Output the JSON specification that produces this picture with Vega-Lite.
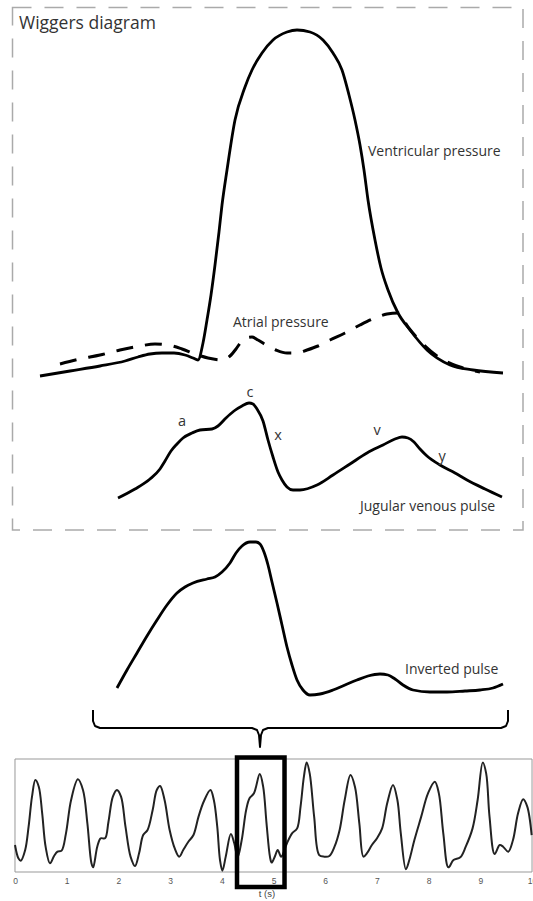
{
  "$schema": "https://vega.github.io/schema/vega-lite/v6.json",
  "width": 533,
  "height": 901,
  "padding": 0,
  "autosize": {"type": "none"},
  "background": "white",
  "config": {"view": {"stroke": null}, "text": {"font": "Open Sans"}},
  "datasets": {
    "curves": [
      {"s":"V","x":40,"y":376},{"s":"V","x":70,"y":371},{"s":"V","x":100,"y":366},{"s":"V","x":125,"y":361},{"s":"V","x":138,"y":357},{"s":"V","x":150,"y":354},{"s":"V","x":162,"y":353},{"s":"V","x":174,"y":353},{"s":"V","x":185,"y":355},{"s":"V","x":193,"y":358},{"s":"V","x":198,"y":360},{"s":"V","x":203,"y":343},{"s":"V","x":207,"y":320},{"s":"V","x":211,"y":295},{"s":"V","x":215,"y":265},{"s":"V","x":219,"y":232},{"s":"V","x":222,"y":205},{"s":"V","x":227,"y":170},{"s":"V","x":235,"y":120},{"s":"V","x":245,"y":87},{"s":"V","x":252,"y":70},{"s":"V","x":262,"y":53},{"s":"V","x":273,"y":40},{"s":"V","x":287,"y":32},{"s":"V","x":297,"y":30},{"s":"V","x":310,"y":32},{"s":"V","x":323,"y":40},{"s":"V","x":333,"y":53},{"s":"V","x":342,"y":70},{"s":"V","x":349,"y":95},{"s":"V","x":355,"y":120},{"s":"V","x":360,"y":145},{"s":"V","x":364,"y":170},{"s":"V","x":368,"y":200},{"s":"V","x":375,"y":240},{"s":"V","x":381,"y":268},{"s":"V","x":388,"y":290},{"s":"V","x":398,"y":313},{"s":"V","x":410,"y":330},{"s":"V","x":427,"y":350},{"s":"V","x":450,"y":365},{"s":"V","x":473,"y":370},{"s":"V","x":503,"y":373},
      {"s":"J","x":118,"y":498},{"s":"J","x":135,"y":489},{"s":"J","x":150,"y":479},{"s":"J","x":160,"y":469},{"s":"J","x":165,"y":461},{"s":"J","x":171,"y":451},{"s":"J","x":177,"y":444},{"s":"J","x":183,"y":438},{"s":"J","x":192,"y":433},{"s":"J","x":200,"y":430},{"s":"J","x":212,"y":429},{"s":"J","x":218,"y":426},{"s":"J","x":226,"y":418},{"s":"J","x":234,"y":411},{"s":"J","x":242,"y":406},{"s":"J","x":249,"y":403},{"s":"J","x":253,"y":404},{"s":"J","x":257,"y":409},{"s":"J","x":263,"y":421},{"s":"J","x":268,"y":440},{"s":"J","x":273,"y":457},{"s":"J","x":278,"y":472},{"s":"J","x":282,"y":480},{"s":"J","x":287,"y":487},{"s":"J","x":293,"y":490},{"s":"J","x":300,"y":490},{"s":"J","x":317,"y":485},{"s":"J","x":333,"y":475},{"s":"J","x":350,"y":464},{"s":"J","x":367,"y":453},{"s":"J","x":383,"y":445},{"s":"J","x":395,"y":439},{"s":"J","x":402,"y":437},{"s":"J","x":408,"y":438},{"s":"J","x":414,"y":442},{"s":"J","x":420,"y":449},{"s":"J","x":427,"y":456},{"s":"J","x":440,"y":465},{"s":"J","x":455,"y":473},{"s":"J","x":467,"y":480},{"s":"J","x":485,"y":489},{"s":"J","x":502,"y":497},
      {"s":"I","x":117,"y":688},{"s":"I","x":127,"y":670},{"s":"I","x":137,"y":653},{"s":"I","x":147,"y":636},{"s":"I","x":157,"y":620},{"s":"I","x":167,"y":605},{"s":"I","x":177,"y":593},{"s":"I","x":185,"y":587},{"s":"I","x":193,"y":583},{"s":"I","x":207,"y":579},{"s":"I","x":215,"y":577},{"s":"I","x":222,"y":572},{"s":"I","x":230,"y":563},{"s":"I","x":236,"y":553},{"s":"I","x":242,"y":546},{"s":"I","x":250,"y":542},{"s":"I","x":256,"y":542},{"s":"I","x":260,"y":544},{"s":"I","x":264,"y":552},{"s":"I","x":268,"y":565},{"s":"I","x":272,"y":582},{"s":"I","x":277,"y":603},{"s":"I","x":282,"y":625},{"s":"I","x":287,"y":647},{"s":"I","x":292,"y":665},{"s":"I","x":297,"y":680},{"s":"I","x":303,"y":690},{"s":"I","x":310,"y":695},{"s":"I","x":320,"y":694},{"s":"I","x":333,"y":690},{"s":"I","x":345,"y":685},{"s":"I","x":357,"y":680},{"s":"I","x":368,"y":676},{"s":"I","x":380,"y":674},{"s":"I","x":388,"y":675},{"s":"I","x":395,"y":679},{"s":"I","x":403,"y":685},{"s":"I","x":413,"y":690},{"s":"I","x":430,"y":692},{"s":"I","x":447,"y":692},{"s":"I","x":465,"y":691},{"s":"I","x":480,"y":690},{"s":"I","x":493,"y":688},{"s":"I","x":503,"y":684}
    ],
    "atrial": [
      {"x":60,"y":364},{"x":80,"y":359},{"x":100,"y":355},{"x":120,"y":350},{"x":140,"y":346},{"x":155,"y":344},{"x":168,"y":345},{"x":182,"y":349},{"x":195,"y":354},{"x":208,"y":358},{"x":222,"y":360},{"x":230,"y":356},{"x":236,"y":349},{"x":241,"y":342},{"x":246,"y":338},{"x":252,"y":337},{"x":258,"y":340},{"x":266,"y":345},{"x":276,"y":350},{"x":287,"y":353},{"x":297,"y":353},{"x":307,"y":350},{"x":318,"y":346},{"x":330,"y":340},{"x":345,"y":333},{"x":360,"y":325},{"x":375,"y":318},{"x":387,"y":314},{"x":398,"y":313},{"x":408,"y":327},{"x":420,"y":341},{"x":440,"y":358},{"x":460,"y":367},{"x":480,"y":372}
    ],
    "brace": [
      {"i":1,"x":93,"y":710},{"i":2,"x":93,"y":721},{"i":3,"x":95,"y":726},{"i":4,"x":100,"y":728},{"i":5,"x":252,"y":728},{"i":6,"x":257,"y":730},{"i":7,"x":259,"y":735},{"i":8,"x":260,"y":747},{"i":9,"x":261,"y":735},{"i":10,"x":263,"y":730},{"i":11,"x":268,"y":728},{"i":12,"x":501,"y":728},{"i":13,"x":506,"y":726},{"i":14,"x":508,"y":721},{"i":15,"x":508,"y":710}
    ],
    "frame": [{"x":12.5,"x2":523,"y":7.5,"y2":530}],
    "labels": [
      {"k":"title","label":"Wiggers diagram","x":19,"y":24},
      {"k":"label","label":"Ventricular pressure","x":368,"y":152},
      {"k":"label","label":"Atrial pressure","x":233,"y":323},
      {"k":"label","label":"Jugular venous pulse","x":360,"y":507},
      {"k":"label","label":"Inverted pulse","x":405,"y":670},
      {"k":"letter","label":"a","x":182,"y":422},
      {"k":"letter","label":"c","x":250,"y":393},
      {"k":"letter","label":"x","x":278,"y":436},
      {"k":"letter","label":"v","x":377,"y":431},
      {"k":"letter","label":"y","x":442,"y":457}
    ],
    "strip": [
      {"t":0,"v":0.239},{"t":0.066,"v":0.121},{"t":0.112,"v":0.1},{"t":0.197,"v":0.195},{"t":0.263,"v":0.401},{"t":0.329,"v":0.667},{"t":0.394,"v":0.814},{"t":0.46,"v":0.755},{"t":0.526,"v":0.519},{"t":0.592,"v":0.224},{"t":0.677,"v":0.077},{"t":0.756,"v":0.142},{"t":0.822,"v":0.18},{"t":0.901,"v":0.189},{"t":0.986,"v":0.342},{"t":1.085,"v":0.637},{"t":1.216,"v":0.82},{"t":1.315,"v":0.726},{"t":1.4,"v":0.431},{"t":1.479,"v":0.077},{"t":1.512,"v":0.041},{"t":1.591,"v":0.224},{"t":1.657,"v":0.298},{"t":1.742,"v":0.298},{"t":1.808,"v":0.445},{"t":1.893,"v":0.667},{"t":1.972,"v":0.726},{"t":2.051,"v":0.667},{"t":2.137,"v":0.401},{"t":2.235,"v":0.136},{"t":2.321,"v":0.053},{"t":2.4,"v":0.165},{"t":2.479,"v":0.327},{"t":2.564,"v":0.372},{"t":2.663,"v":0.549},{"t":2.742,"v":0.726},{"t":2.807,"v":0.761},{"t":2.893,"v":0.637},{"t":2.991,"v":0.372},{"t":3.09,"v":0.209},{"t":3.176,"v":0.136},{"t":3.254,"v":0.195},{"t":3.353,"v":0.268},{"t":3.452,"v":0.327},{"t":3.55,"v":0.49},{"t":3.649,"v":0.622},{"t":3.78,"v":0.726},{"t":3.846,"v":0.637},{"t":3.912,"v":0.401},{"t":3.965,"v":0.106},{"t":4.011,"v":0.012},{"t":4.076,"v":0.136},{"t":4.175,"v":0.336},{"t":4.241,"v":0.254},{"t":4.306,"v":0.13},{"t":4.385,"v":0.283},{"t":4.471,"v":0.549},{"t":4.536,"v":0.652},{"t":4.622,"v":0.696},{"t":4.734,"v":0.867},{"t":4.8,"v":0.755},{"t":4.865,"v":0.431},{"t":4.931,"v":0.136},{"t":4.964,"v":0.083},{"t":5.03,"v":0.142},{"t":5.082,"v":0.195},{"t":5.148,"v":0.136},{"t":5.26,"v":0.254},{"t":5.358,"v":0.342},{"t":5.457,"v":0.386},{"t":5.523,"v":0.578},{"t":5.588,"v":0.844},{"t":5.641,"v":0.968},{"t":5.7,"v":0.873},{"t":5.786,"v":0.49},{"t":5.884,"v":0.15},{"t":5.983,"v":0.136},{"t":6.081,"v":0.142},{"t":6.18,"v":0.224},{"t":6.279,"v":0.372},{"t":6.377,"v":0.637},{"t":6.489,"v":0.858},{"t":6.575,"v":0.755},{"t":6.66,"v":0.431},{"t":6.739,"v":0.136},{"t":6.805,"v":0.165},{"t":6.903,"v":0.239},{"t":7.002,"v":0.298},{"t":7.101,"v":0.386},{"t":7.199,"v":0.608},{"t":7.311,"v":0.77},{"t":7.396,"v":0.637},{"t":7.462,"v":0.342},{"t":7.561,"v":0.024},{"t":7.627,"v":0.106},{"t":7.725,"v":0.283},{"t":7.857,"v":0.49},{"t":7.988,"v":0.696},{"t":8.12,"v":0.799},{"t":8.198,"v":0.696},{"t":8.284,"v":0.342},{"t":8.383,"v":0.041},{"t":8.481,"v":0.106},{"t":8.613,"v":0.13},{"t":8.718,"v":0.224},{"t":8.85,"v":0.386},{"t":8.948,"v":0.637},{"t":9.047,"v":0.968},{"t":9.113,"v":0.873},{"t":9.178,"v":0.49},{"t":9.277,"v":0.159},{"t":9.375,"v":0.239},{"t":9.441,"v":0.224},{"t":9.54,"v":0.18},{"t":9.632,"v":0.283},{"t":9.73,"v":0.519},{"t":9.829,"v":0.643},{"t":9.908,"v":0.578},{"t":9.993,"v":0.327}
    ],
    "stripframe": [{"t":0,"t2":10,"v":0,"v2":1}],
    "box": [{"t":4.294,"t2":5.213,"v":1.013,"v2":-0.133}],
    "ticks": [{"t":0},{"t":1},{"t":2},{"t":3},{"t":4},{"t":5},{"t":6},{"t":7},{"t":8},{"t":9},{"t":10}]
  },
  "layer": [
    {
      "encoding": {
        "x": {"field": "x", "type": "quantitative", "scale": {"domain": [0, 533], "nice": false, "zero": false}, "axis": null},
        "y": {"field": "y", "type": "quantitative", "scale": {"domain": [0, 901], "nice": false, "zero": false, "reverse": true}, "axis": null}
      },
      "layer": [
        {
          "data": {"name": "frame"},
          "mark": {"type": "rect", "fill": null, "stroke": "#aaaaaa", "strokeWidth": 1.5, "strokeDash": [19, 13]},
          "encoding": {"x2": {"field": "x2"}, "y2": {"field": "y2"}}
        },
        {
          "data": {"name": "atrial"},
          "mark": {"type": "line", "interpolate": "monotone", "color": "black", "strokeWidth": 3, "strokeDash": [17, 12]},
          "encoding": {}
        },
        {
          "data": {"name": "curves"},
          "mark": {"type": "line", "interpolate": "monotone", "color": "black", "strokeWidth": 2.8},
          "encoding": {"detail": {"field": "s"}}
        },
        {
          "data": {"name": "brace"},
          "mark": {"type": "line", "interpolate": "linear", "color": "black", "strokeWidth": 2, "strokeJoin": "round"},
          "encoding": {"order": {"field": "i"}}
        },
        {
          "data": {"name": "labels"},
          "transform": [{"filter": "datum.k == 'title'"}],
          "mark": {"type": "text", "align": "left", "baseline": "middle", "fontSize": 17.5, "color": "#333333", "font": "Open Sans"},
          "encoding": {"text": {"field": "label"}}
        },
        {
          "data": {"name": "labels"},
          "transform": [{"filter": "datum.k == 'label'"}],
          "mark": {"type": "text", "align": "left", "baseline": "middle", "fontSize": 14, "color": "#333333", "font": "Open Sans"},
          "encoding": {"text": {"field": "label"}}
        },
        {
          "data": {"name": "labels"},
          "transform": [{"filter": "datum.k == 'letter'"}],
          "mark": {"type": "text", "align": "center", "baseline": "middle", "fontSize": 14.5, "color": "#333333", "font": "Open Sans"},
          "encoding": {"text": {"field": "label"}}
        }
      ]
    },
    {
      "encoding": {
        "x": {"field": "t", "type": "quantitative", "scale": {"domain": [-0.29, 10.019], "nice": false, "zero": false},
              "axis": {"values": [0,1,2,3,4,5,6,7,8,9,10], "orient": "bottom", "offset": -29, "domain": false, "ticks": false, "grid": false,
                       "labelFontSize": 8.5, "labelColor": "#555555", "labelPadding": 4, "labelFont": "Liberation Sans", "labelFlush": false, "labelOverlap": false,
                       "title": "t (s)", "titleFontSize": 9.5, "titleFontWeight": "normal", "titleColor": "#444444", "titlePadding": 4, "titleFont": "Liberation Sans"}},
        "y": {"field": "v", "type": "quantitative", "scale": {"domain": [-0.2566, 7.717], "nice": false, "zero": false}, "axis": null}
      },
      "layer": [
        {
          "data": {"name": "stripframe"},
          "mark": {"type": "rect", "fill": null, "stroke": "#999999", "strokeWidth": 1},
          "encoding": {"x2": {"field": "t2"}, "y2": {"field": "v2"}}
        },
        {
          "data": {"name": "ticks"},
          "mark": {"type": "rule", "color": "#aaaaaa", "strokeWidth": 1},
          "encoding": {"y": {"datum": 0}, "y2": {"datum": 0.035}}
        },
        {
          "data": {"name": "ticks"},
          "mark": {"type": "rule", "color": "#aaaaaa", "strokeWidth": 1},
          "encoding": {"y": {"datum": 1}, "y2": {"datum": 0.965}}
        },
        {
          "data": {"name": "strip"},
          "mark": {"type": "line", "interpolate": "catmull-rom", "color": "#222222", "strokeWidth": 2},
          "encoding": {}
        },
        {
          "data": {"name": "box"},
          "mark": {"type": "rect", "fill": null, "stroke": "black", "strokeWidth": 4.5},
          "encoding": {"x2": {"field": "t2"}, "y2": {"field": "v2"}}
        }
      ]
    }
  ],
  "resolve": {"scale": {"x": "independent", "y": "independent"}, "axis": {"x": "independent", "y": "independent"}}
}
